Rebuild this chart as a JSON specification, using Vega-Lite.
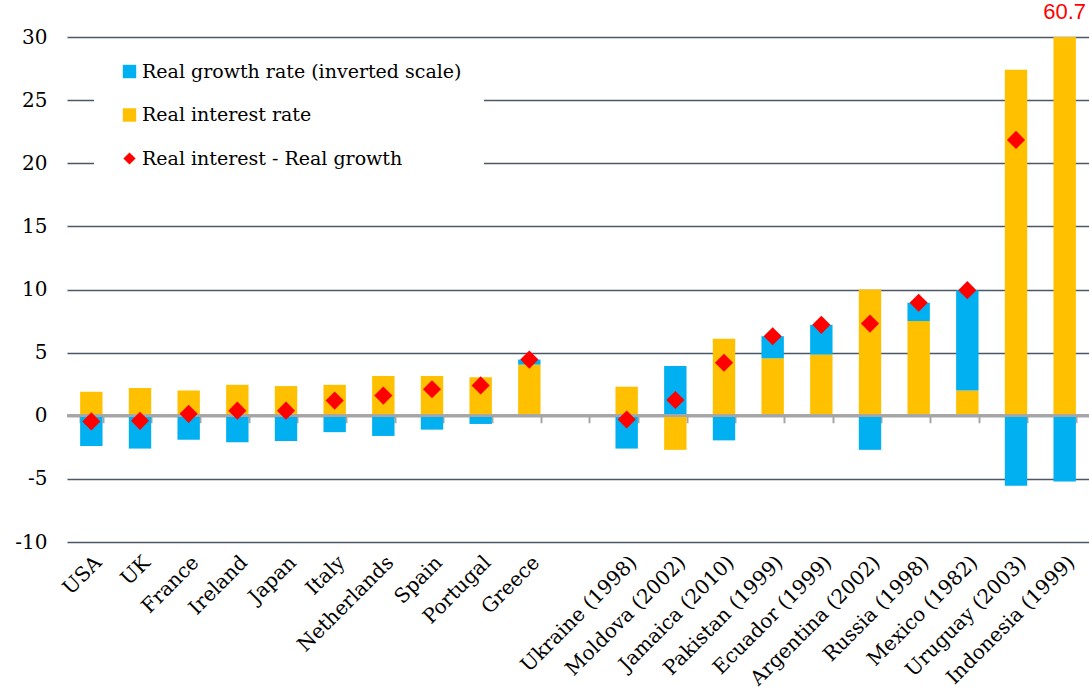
{
  "$schema": "https://vega.github.io/schema/vega-lite/v6.json",
  "width": 1022,
  "height": 505,
  "autosize": {"type": "none"},
  "padding": {"left": 67, "top": 37, "right": 0, "bottom": 151},
  "config": {"view": {"stroke": null}, "font": "DejaVu Serif"},
  "datasets": {
    "bars": [
      {"country": "USA", "series": "Real interest rate", "value": 1.9},
      {"country": "USA", "series": "Real growth rate (inverted scale)", "value": -2.4},
      {"country": "UK", "series": "Real interest rate", "value": 2.2},
      {"country": "UK", "series": "Real growth rate (inverted scale)", "value": -2.6},
      {"country": "France", "series": "Real interest rate", "value": 2.0},
      {"country": "France", "series": "Real growth rate (inverted scale)", "value": -1.9},
      {"country": "Ireland", "series": "Real interest rate", "value": 2.45},
      {"country": "Ireland", "series": "Real growth rate (inverted scale)", "value": -2.1},
      {"country": "Japan", "series": "Real interest rate", "value": 2.35},
      {"country": "Japan", "series": "Real growth rate (inverted scale)", "value": -2.0},
      {"country": "Italy", "series": "Real interest rate", "value": 2.45},
      {"country": "Italy", "series": "Real growth rate (inverted scale)", "value": -1.3},
      {"country": "Netherlands", "series": "Real interest rate", "value": 3.15},
      {"country": "Netherlands", "series": "Real growth rate (inverted scale)", "value": -1.6},
      {"country": "Spain", "series": "Real interest rate", "value": 3.15},
      {"country": "Spain", "series": "Real growth rate (inverted scale)", "value": -1.1},
      {"country": "Portugal", "series": "Real interest rate", "value": 3.05},
      {"country": "Portugal", "series": "Real growth rate (inverted scale)", "value": -0.65},
      {"country": "Greece", "series": "Real interest rate", "value": 4.05},
      {"country": "Greece", "series": "Real growth rate (inverted scale)", "value": 0.4},
      {"country": "Ukraine (1998)", "series": "Real interest rate", "value": 2.3},
      {"country": "Ukraine (1998)", "series": "Real growth rate (inverted scale)", "value": -2.6},
      {"country": "Moldova (2002)", "series": "Real interest rate", "value": -2.7},
      {"country": "Moldova (2002)", "series": "Real growth rate (inverted scale)", "value": 3.95},
      {"country": "Jamaica (2010)", "series": "Real interest rate", "value": 6.1},
      {"country": "Jamaica (2010)", "series": "Real growth rate (inverted scale)", "value": -1.95},
      {"country": "Pakistan (1999)", "series": "Real interest rate", "value": 4.55},
      {"country": "Pakistan (1999)", "series": "Real growth rate (inverted scale)", "value": 1.75},
      {"country": "Ecuador (1999)", "series": "Real interest rate", "value": 4.85},
      {"country": "Ecuador (1999)", "series": "Real growth rate (inverted scale)", "value": 2.35},
      {"country": "Argentina (2002)", "series": "Real interest rate", "value": 10.0},
      {"country": "Argentina (2002)", "series": "Real growth rate (inverted scale)", "value": -2.7},
      {"country": "Russia (1998)", "series": "Real interest rate", "value": 7.5},
      {"country": "Russia (1998)", "series": "Real growth rate (inverted scale)", "value": 1.45},
      {"country": "Mexico (1982)", "series": "Real interest rate", "value": 2.0},
      {"country": "Mexico (1982)", "series": "Real growth rate (inverted scale)", "value": 7.95},
      {"country": "Uruguay (2003)", "series": "Real interest rate", "value": 27.4},
      {"country": "Uruguay (2003)", "series": "Real growth rate (inverted scale)", "value": -5.55},
      {"country": "Indonesia (1999)", "series": "Real interest rate", "value": 60.7},
      {"country": "Indonesia (1999)", "series": "Real growth rate (inverted scale)", "value": -5.2}
    ],
    "diff": [
      {"country": "USA", "diff": -0.45},
      {"country": "UK", "diff": -0.4},
      {"country": "France", "diff": 0.15},
      {"country": "Ireland", "diff": 0.4},
      {"country": "Japan", "diff": 0.4},
      {"country": "Italy", "diff": 1.2},
      {"country": "Netherlands", "diff": 1.6},
      {"country": "Spain", "diff": 2.1},
      {"country": "Portugal", "diff": 2.4},
      {"country": "Greece", "diff": 4.45},
      {"country": "Ukraine (1998)", "diff": -0.3},
      {"country": "Moldova (2002)", "diff": 1.25},
      {"country": "Jamaica (2010)", "diff": 4.2},
      {"country": "Pakistan (1999)", "diff": 6.3},
      {"country": "Ecuador (1999)", "diff": 7.2},
      {"country": "Argentina (2002)", "diff": 7.3},
      {"country": "Russia (1998)", "diff": 8.95},
      {"country": "Mexico (1982)", "diff": 9.95},
      {"country": "Uruguay (2003)", "diff": 21.85},
      {"country": "Indonesia (1999)", "diff": 55.5}
    ],
    "note": [
      {"country": "Indonesia (1999)", "label": "60.7"}
    ]
  },
  "layer": [
    {
      "data": {"name": "bars"},
      "mark": {"type": "bar", "clip": true},
      "encoding": {
        "x": {
          "field": "country", "type": "nominal",
          "scale": {
            "domain": ["USA", "UK", "France", "Ireland", "Japan", "Italy", "Netherlands", "Spain", "Portugal", "Greece", " ", "Ukraine (1998)", "Moldova (2002)", "Jamaica (2010)", "Pakistan (1999)", "Ecuador (1999)", "Argentina (2002)", "Russia (1998)", "Mexico (1982)", "Uruguay (2003)", "Indonesia (1999)"],
            "paddingInner": 0.54, "paddingOuter": 0.27
          },
          "axis": {
            "orient": "bottom",
            "title": null, "domain": false, "ticks": false, "labelAngle": -45,
            "labelAlign": "right", "labelBaseline": "top", "labelPadding": 10,
            "labelFontSize": 20, "labelColor": "#000000", "labelFont": "DejaVu Serif",
            "labelLimit": 300
          }
        },
        "y": {
          "field": "value", "type": "quantitative", "stack": "zero",
          "scale": {"domain": [-10, 30], "nice": false, "zero": false},
          "axis": {
            "title": null, "values": [-10, -5, 0, 5, 10, 15, 20, 25, 30],
            "labelExpr": "'' + datum.value",
            "grid": true, "gridColor": "#4d5866", "gridWidth": 1.5,
            "domain": false, "ticks": false, "tickSize": 0, "labelPadding": 20,
            "labelFontSize": 20, "labelColor": "#000000", "labelFont": "DejaVu Serif"
          }
        },
        "color": {
          "field": "series", "type": "nominal",
          "scale": {
            "domain": ["Real growth rate (inverted scale)", "Real interest rate", "Real interest - Real growth"],
            "range": ["#00B0F0", "#FFC000", "#FF0000"]
          },
          "legend": {
            "title": null, "orient": "none", "legendX": 27, "legendY": 3,
            "fillColor": "#ffffff", "padding": 22, "symbolOffset": 4,
            "labelFontSize": 19, "labelFont": "DejaVu Serif", "labelColor": "#000000",
            "labelLimit": 500, "rowPadding": 23.5, "labelOffset": 3,
            "symbolType": "square", "symbolSize": 180, "symbolStrokeWidth": 0,
            "encode": {
              "symbols": {
                "update": {
                  "shape": {"signal": "datum.label === 'Real interest - Real growth' ? 'diamond' : 'square'"},
                  "size": {"signal": "datum.label === 'Real interest - Real growth' ? 150 : 180"}
                }
              }
            }
          }
        },
        "order": {"field": "series", "sort": "descending"}
      }
    },
    {
      "data": {"name": "bars"},
      "mark": {"type": "rule", "color": "#a6a6a6", "strokeWidth": 2},
      "encoding": {"y": {"datum": 0, "type": "quantitative"}}
    },
    {
      "data": {"name": "diff"},
      "mark": {"type": "point", "filled": true, "shape": "diamond", "size": 330, "opacity": 1, "clip": true},
      "encoding": {
        "x": {
          "field": "country", "type": "nominal",
          "axis": {
            "orient": "bottom", "offset": -126.25, "title": null, "labels": false,
            "domain": false, "ticks": true, "tickBand": "extent", "tickColor": "#a6a6a6",
            "tickSize": 7, "tickWidth": 2
          }
        },
        "y": {"field": "diff", "type": "quantitative"},
        "color": {"datum": "Real interest - Real growth", "type": "nominal"}
      }
    },
    {
      "data": {"name": "note"},
      "mark": {"type": "text", "color": "#FF0000", "font": "Liberation Sans", "fontSize": 22, "dy": -25, "align": "center", "clip": false},
      "encoding": {
        "x": {"field": "country", "type": "nominal", "axis": null},
        "y": {"datum": 30, "type": "quantitative"},
        "text": {"field": "label"}
      }
    }
  ],
  "resolve": {"axis": {"x": "independent"}}
}
